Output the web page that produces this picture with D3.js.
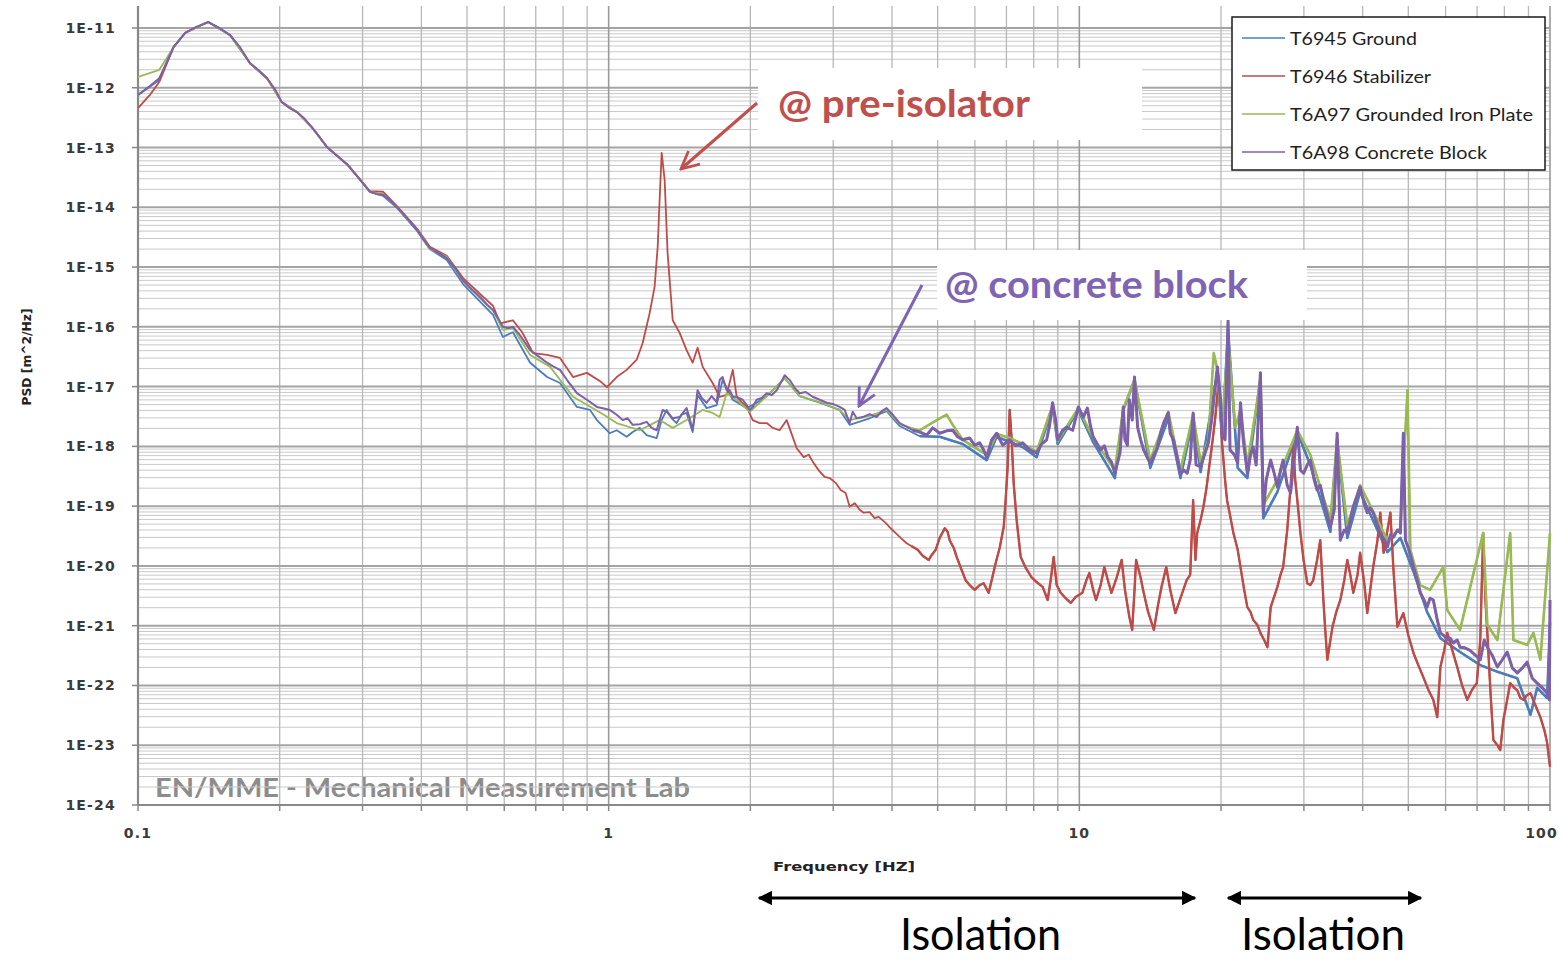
<!DOCTYPE html>
<html><head><meta charset="utf-8">
<script src="https://cdn.jsdelivr.net/npm/d3@7"></script>
<style>html,body{margin:0;padding:0;background:#fff}svg{display:block}</style>
</head><body>
<svg id="chart" width="1564" height="960"></svg>
<script>
// ---- DATA: [frequency (Hz), log10 PSD (m^2/Hz)] ----
const seriesNames = ["T6945 Ground","T6946 Stabilizer","T6A97 Grounded Iron Plate","T6A98 Concrete Block"];
const seriesColors = ["#4a7ebb","#be4b48","#98b954","#7d60a8"];
const xTickValues = [0.1, 1, 10, 100];
const xTickLabels = ["0.1","1","10","100"];
const yTickExponents = [-11,-12,-13,-14,-15,-16,-17,-18,-19,-20,-21,-22,-23,-24];
const yTickLabels = ["1E-11","1E-12","1E-13","1E-14","1E-15","1E-16","1E-17","1E-18","1E-19","1E-20","1E-21","1E-22","1E-23","1E-24"];

const ground = [[0.100,-12.12],[0.111,-11.87],[0.119,-11.32],[0.126,-11.08],[0.141,-10.90],[0.157,-11.12],[0.173,-11.59],[0.188,-11.84],[0.202,-12.24],[0.218,-12.41],[0.234,-12.66],[0.252,-12.99],[0.279,-13.29],[0.311,-13.74],[0.332,-13.81],[0.355,-14.01],[0.392,-14.40],[0.417,-14.70],[0.453,-14.88],[0.490,-15.28],[0.533,-15.58],[0.568,-15.80],[0.596,-16.17],[0.626,-16.09],[0.681,-16.60],[0.740,-16.84],[0.788,-16.94],[0.856,-17.34],[0.913,-17.39],[0.944,-17.56],[1.005,-17.78],[1.040,-17.73],[1.092,-17.84],[1.125,-17.76],[1.164,-17.69],[1.204,-17.81],[1.265,-17.86],[1.296,-17.56],[1.328,-17.39],[1.361,-17.53],[1.394,-17.61],[1.429,-17.47],[1.464,-17.44],[1.508,-17.76],[1.545,-17.14],[1.615,-17.36],[1.696,-17.31],[1.746,-16.89],[1.835,-17.22],[1.965,-17.36],[2.063,-17.27],[2.167,-17.16],[2.366,-16.86],[2.546,-17.16],[2.808,-17.27],[3.096,-17.39],[3.251,-17.64],[3.585,-17.53],[3.896,-17.41],[4.152,-17.66],[4.582,-17.83],[5.050,-17.84],[5.651,-17.96],[6.354,-18.23],[6.674,-17.84],[7.578,-18.01],[8.115,-18.18],[8.776,-17.34],[8.994,-17.96],[9.95,-17.39],[10.7,-17.93],[11.9,-18.53],[12.4,-17.39],[13.1,-16.89],[14.15,-18.36],[15.45,-17.53],[16.4,-18.53],[17.45,-17.53],[18.1,-18.43],[19.65,-16.76],[20.1,-17.86],[20.7,-16.05],[21.7,-18.36],[22.75,-18.53],[24.25,-16.86],[24.6,-19.20],[26.35,-18.76],[29.05,-17.76],[30.95,-18.31],[34.15,-19.43],[35.3,-17.89],[37.1,-19.53],[39.5,-18.76],[45.15,-19.77],[48.1,-19.53],[51.3,-20.10],[54.8,-20.77],[58.5,-21.21],[64.4,-21.44],[71.1,-21.66],[77.3,-21.77],[85.2,-21.88],[90.9,-22.49],[93.9,-22.04],[98.6,-22.21],[100,-20.94]];

const stabilizer = [[0.100,-12.34],[0.106,-12.12],[0.111,-11.90],[0.119,-11.32],[0.126,-11.08],[0.141,-10.90],[0.157,-11.12],[0.173,-11.59],[0.188,-11.84],[0.202,-12.24],[0.218,-12.41],[0.234,-12.66],[0.252,-12.99],[0.279,-13.29],[0.311,-13.73],[0.332,-13.74],[0.355,-13.98],[0.392,-14.36],[0.417,-14.66],[0.453,-14.81],[0.490,-15.18],[0.533,-15.45],[0.568,-15.65],[0.588,-15.94],[0.626,-15.89],[0.655,-16.09],[0.691,-16.44],[0.740,-16.47],[0.788,-16.52],[0.840,-16.84],[0.899,-16.77],[0.963,-16.92],[0.992,-17.01],[1.040,-16.84],[1.092,-16.72],[1.147,-16.55],[1.181,-16.27],[1.222,-15.77],[1.252,-15.33],[1.271,-14.66],[1.283,-13.88],[1.296,-13.09],[1.315,-13.54],[1.334,-14.76],[1.368,-15.89],[1.415,-16.10],[1.464,-16.39],[1.508,-16.60],[1.545,-16.35],[1.584,-16.67],[1.663,-16.94],[1.721,-17.17],[1.781,-17.14],[1.835,-16.72],[1.871,-17.17],[1.918,-17.26],[1.965,-17.34],[2.023,-17.56],[2.094,-17.61],[2.167,-17.61],[2.232,-17.69],[2.308,-17.73],[2.389,-17.56],[2.460,-17.84],[2.509,-18.03],[2.596,-18.18],[2.661,-18.14],[2.726,-18.28],[2.794,-18.40],[2.876,-18.51],[2.947,-18.53],[3.036,-18.61],[3.111,-18.73],[3.188,-18.78],[3.251,-19.01],[3.332,-18.95],[3.415,-19.06],[3.481,-19.11],[3.585,-19.10],[3.673,-19.20],[3.747,-19.18],[3.877,-19.28],[3.974,-19.37],[4.073,-19.45],[4.173,-19.53],[4.296,-19.62],[4.404,-19.67],[4.535,-19.73],[4.646,-19.83],[4.786,-19.90],[4.854,-19.82],[4.952,-19.73],[5.050,-19.53],[5.177,-19.37],[5.251,-19.43],[5.303,-19.57],[5.410,-19.70],[5.488,-19.85],[5.624,-20.07],[5.734,-20.24],[5.848,-20.32],[5.993,-20.40],[6.141,-20.32],[6.262,-20.29],[6.418,-20.45],[6.513,-20.24],[6.641,-19.95],[6.772,-19.70],[6.907,-19.35],[6.973,-18.90],[7.042,-18.34],[7.112,-17.39],[7.182,-17.89],[7.252,-18.61],[7.358,-19.23],[7.506,-19.85],[7.690,-20.03],[7.917,-20.19],[8.115,-20.27],[8.357,-20.35],[8.564,-20.57],[8.691,-20.24],[8.820,-19.85],[8.950,-20.32],[9.13,-20.45],[9.35,-20.54],[9.59,-20.62],[9.82,-20.52],[10.15,-20.45],[10.35,-20.24],[10.5,-20.12],[10.7,-20.40],[10.85,-20.57],[11.1,-20.32],[11.3,-20.02],[11.5,-20.24],[11.7,-20.45],[12.0,-20.20],[12.3,-19.90],[12.5,-20.40],[12.77,-20.85],[12.95,-21.07],[13.1,-20.40],[13.2,-19.90],[13.5,-20.20],[13.7,-20.45],[14.0,-20.77],[14.4,-21.07],[14.7,-20.65],[14.95,-20.35],[15.3,-20.02],[15.6,-20.40],[16.0,-20.79],[16.4,-20.54],[16.9,-20.24],[17.2,-20.15],[17.45,-18.90],[17.65,-19.90],[17.8,-19.45],[18.1,-19.23],[18.35,-19.01],[18.6,-18.73],[18.8,-18.45],[19.2,-17.89],[19.45,-17.51],[19.75,-16.94],[19.95,-17.39],[20.1,-17.94],[20.4,-18.56],[20.6,-18.90],[20.9,-19.15],[21.25,-19.45],[21.7,-19.73],[22.0,-20.02],[22.4,-20.40],[22.75,-20.69],[23.1,-20.77],[23.4,-20.90],[23.9,-20.99],[24.25,-21.12],[24.7,-21.24],[25.1,-21.36],[25.5,-20.69],[26.0,-20.49],[26.35,-20.35],[26.75,-20.15],[27.1,-20.02],[27.65,-19.40],[28.1,-18.68],[28.5,-18.01],[28.75,-18.56],[29.05,-18.90],[29.5,-19.45],[29.95,-19.90],[30.5,-20.29],[30.95,-20.32],[31.4,-20.24],[32.0,-19.90],[32.5,-19.57],[33.0,-20.57],[33.3,-21.07],[33.65,-21.57],[34.15,-21.24],[34.5,-21.02],[35.15,-20.77],[35.85,-20.57],[36.55,-20.24],[37.1,-19.90],[37.65,-20.15],[38.2,-20.45],[39.0,-20.15],[39.5,-19.78],[40.35,-20.32],[40.9,-20.79],[41.5,-20.40],[42.1,-20.02],[43.0,-19.57],[43.6,-19.11],[44.3,-19.78],[45.15,-19.40],[45.8,-19.11],[46.5,-20.07],[47.4,-21.02],[48.1,-20.90],[48.8,-20.79],[50.0,-21.16],[51.3,-21.46],[52.5,-21.66],[53.8,-21.86],[55.2,-22.08],[56.5,-22.24],[57.6,-22.53],[58.5,-21.69],[59.6,-21.41],[60.5,-21.12],[62.0,-21.41],[63.5,-21.69],[65.0,-21.99],[66.7,-22.24],[68.2,-22.08],[69.9,-21.96],[71.1,-21.24],[72.1,-19.45],[72.9,-20.57],[73.6,-21.12],[74.7,-22.08],[75.8,-22.91],[77.3,-23.00],[78.4,-23.08],[79.6,-22.58],[81.1,-22.24],[82.3,-21.96],[84.0,-22.04],[85.2,-22.08],[86.5,-22.21],[87.8,-22.24],[89.4,-22.16],[90.9,-22.13],[93.1,-22.33],[95.4,-22.53],[97.3,-22.75],[98.6,-22.96],[100,-23.36]];

const ironPlate = [[0.100,-11.82],[0.111,-11.70],[0.119,-11.32],[0.126,-11.08],[0.141,-10.90],[0.157,-11.12],[0.173,-11.59],[0.188,-11.84],[0.202,-12.24],[0.218,-12.41],[0.234,-12.66],[0.252,-12.99],[0.279,-13.29],[0.311,-13.74],[0.332,-13.78],[0.355,-14.00],[0.392,-14.38],[0.417,-14.70],[0.453,-14.83],[0.490,-15.23],[0.533,-15.52],[0.568,-15.73],[0.596,-16.05],[0.626,-16.02],[0.681,-16.47],[0.751,-16.67],[0.840,-17.17],[0.963,-17.44],[1.040,-17.61],[1.164,-17.73],[1.283,-17.56],[1.368,-17.69],[1.464,-17.56],[1.584,-17.39],[1.663,-17.44],[1.721,-17.51],[1.781,-17.11],[1.871,-17.22],[1.994,-17.42],[2.167,-17.16],[2.366,-16.86],[2.546,-17.16],[2.808,-17.26],[3.096,-17.39],[3.251,-17.56],[3.585,-17.49],[3.896,-17.39],[4.152,-17.63],[4.582,-17.73],[5.050,-17.53],[5.226,-17.47],[5.383,-17.64],[5.651,-17.89],[6.354,-18.14],[6.674,-17.79],[7.112,-17.86],[7.578,-17.96],[8.115,-18.09],[8.776,-17.31],[8.994,-17.91],[9.95,-17.36],[10.7,-17.86],[11.9,-18.40],[12.4,-17.37],[13.1,-16.89],[14.15,-18.23],[15.45,-17.42],[16.4,-18.40],[17.45,-17.47],[18.1,-18.26],[18.8,-17.89],[19.3,-16.44],[19.65,-16.72],[20.1,-17.73],[20.7,-16.22],[21.45,-17.68],[22.0,-17.39],[22.75,-18.31],[24.25,-16.89],[24.6,-18.98],[26.35,-18.56],[29.05,-17.73],[30.95,-18.14],[34.15,-19.23],[35.3,-17.89],[37.1,-19.32],[39.5,-18.65],[45.15,-19.57],[48.1,-19.37],[49.8,-17.06],[50.5,-19.73],[53.0,-20.32],[55.6,-20.40],[59.3,-20.02],[60.5,-20.74],[64.4,-21.07],[72.1,-19.45],[73.6,-20.99],[77.3,-21.24],[82.3,-19.45],[83.6,-21.24],[89.4,-21.32],[92.2,-21.12],[95.4,-21.57],[100,-19.45]];

const concreteBlock = [[0.100,-12.12],[0.106,-11.97],[0.111,-11.84],[0.119,-11.32],[0.126,-11.08],[0.133,-10.98],[0.141,-10.90],[0.149,-11.00],[0.157,-11.12],[0.165,-11.33],[0.173,-11.59],[0.180,-11.70],[0.188,-11.84],[0.196,-12.04],[0.202,-12.24],[0.210,-12.34],[0.218,-12.41],[0.226,-12.52],[0.234,-12.66],[0.244,-12.84],[0.252,-12.99],[0.265,-13.14],[0.279,-13.29],[0.293,-13.49],[0.311,-13.74],[0.322,-13.78],[0.332,-13.79],[0.343,-13.88],[0.355,-14.00],[0.373,-14.18],[0.392,-14.38],[0.405,-14.55],[0.417,-14.68],[0.438,-14.78],[0.453,-14.85],[0.472,-15.02],[0.490,-15.22],[0.513,-15.38],[0.533,-15.50],[0.552,-15.63],[0.568,-15.72],[0.582,-15.85],[0.596,-16.00],[0.611,-16.02],[0.626,-16.00],[0.648,-16.14],[0.681,-16.39],[0.708,-16.49],[0.740,-16.60],[0.762,-16.66],[0.788,-16.72],[0.816,-16.89],[0.856,-17.11],[0.899,-17.22],[0.944,-17.34],[0.982,-17.37],[1.005,-17.39],[1.040,-17.47],[1.071,-17.56],[1.097,-17.53],[1.125,-17.64],[1.164,-17.63],[1.204,-17.59],[1.234,-17.69],[1.265,-17.73],[1.302,-17.39],[1.328,-17.42],[1.368,-17.53],[1.415,-17.51],[1.464,-17.36],[1.486,-17.53],[1.508,-17.73],[1.545,-17.06],[1.576,-17.19],[1.615,-17.27],[1.655,-17.16],[1.696,-17.26],[1.721,-16.89],[1.746,-16.84],[1.781,-17.06],[1.808,-17.06],[1.835,-17.17],[1.871,-17.17],[1.927,-17.22],[1.965,-17.31],[1.994,-17.39],[2.023,-17.34],[2.063,-17.22],[2.115,-17.19],[2.167,-17.11],[2.221,-17.14],[2.275,-17.06],[2.320,-16.94],[2.366,-16.81],[2.401,-16.86],[2.425,-16.89],[2.484,-17.02],[2.546,-17.11],[2.622,-17.09],[2.713,-17.17],[2.808,-17.22],[2.905,-17.27],[2.994,-17.29],[3.096,-17.34],[3.172,-17.39],[3.251,-17.61],[3.300,-17.42],[3.364,-17.53],[3.465,-17.51],[3.585,-17.46],[3.710,-17.51],[3.802,-17.41],[3.896,-17.36],[4.012,-17.47],[4.152,-17.61],[4.274,-17.66],[4.426,-17.73],[4.582,-17.76],[4.741,-17.81],[4.880,-17.69],[5.050,-17.78],[5.226,-17.74],[5.383,-17.73],[5.515,-17.84],[5.651,-17.89],[5.848,-17.86],[5.993,-17.98],[6.141,-17.94],[6.262,-18.06],[6.354,-18.18],[6.513,-17.89],[6.674,-17.78],[6.873,-17.98],[7.112,-17.89],[7.321,-17.99],[7.578,-17.94],[7.840,-18.06],[8.115,-18.11],[8.316,-17.96],[8.522,-17.89],[8.648,-17.64],[8.776,-17.27],[8.906,-17.56],[8.994,-17.89],[9.216,-17.73],[9.397,-17.68],[9.68,-17.73],[9.82,-17.53],[9.95,-17.34],[10.2,-17.51],[10.4,-17.36],[10.55,-17.64],[10.7,-17.84],[11.1,-18.06],[11.3,-17.99],[11.5,-18.18],[11.7,-18.26],[11.9,-18.45],[12.2,-18.11],[12.4,-17.34],[12.5,-17.89],[12.65,-17.98],[12.77,-17.22],[12.95,-17.56],[13.1,-16.84],[13.3,-17.68],[13.5,-17.89],[13.7,-18.06],[13.95,-18.19],[14.15,-18.28],[14.4,-18.14],[14.6,-18.06],[14.9,-17.76],[15.1,-17.61],[15.45,-17.44],[15.6,-17.78],[15.85,-17.89],[16.1,-18.14],[16.4,-18.45],[16.7,-18.40],[16.95,-18.45],[17.2,-18.23],[17.45,-17.44],[17.7,-18.31],[18.1,-18.34],[18.45,-18.14],[18.8,-17.94],[19.1,-17.56],[19.3,-17.22],[19.65,-16.67],[19.95,-17.22],[20.1,-17.78],[20.4,-17.89],[20.7,-15.89],[20.9,-18.06],[21.35,-18.14],[21.7,-18.28],[22.0,-17.27],[22.3,-17.89],[22.75,-18.45],[23.1,-18.14],[23.4,-18.01],[23.75,-18.31],[24.25,-16.77],[24.6,-19.11],[24.95,-18.56],[25.5,-18.23],[26.0,-18.48],[26.35,-18.68],[26.75,-18.40],[27.1,-18.23],[27.65,-18.65],[28.1,-18.78],[28.6,-18.23],[29.05,-17.68],[29.5,-18.40],[29.95,-18.45],[30.5,-18.31],[30.95,-18.23],[31.55,-18.56],[32.0,-18.73],[32.5,-18.65],[33.0,-18.90],[33.65,-19.15],[34.15,-19.35],[34.8,-19.06],[35.3,-17.78],[35.85,-19.57],[36.55,-19.40],[37.1,-19.45],[37.65,-19.23],[38.2,-19.01],[39.0,-18.81],[39.5,-18.68],[40.35,-18.98],[40.9,-19.11],[41.5,-19.03],[42.1,-19.11],[43.0,-19.32],[43.6,-19.45],[44.5,-19.57],[45.15,-19.68],[45.8,-19.48],[46.5,-19.52],[47.4,-19.40],[48.1,-19.45],[48.8,-17.78],[49.3,-19.57],[50.0,-19.70],[50.5,-19.82],[51.3,-20.02],[52.25,-20.24],[53.0,-20.45],[54.0,-20.57],[54.8,-20.69],[55.6,-20.54],[56.5,-20.57],[57.6,-20.90],[58.5,-21.12],[59.6,-21.17],[60.5,-21.24],[61.4,-21.21],[62.3,-21.29],[63.5,-21.24],[64.4,-21.36],[65.9,-21.37],[67.5,-21.41],[69.3,-21.49],[71.1,-21.57],[72.5,-21.24],[73.6,-21.36],[75.3,-21.49],[77.3,-21.69],[79.2,-21.57],[81.1,-21.44],[83.2,-21.71],[85.2,-21.79],[87.3,-21.71],[89.4,-21.61],[91.7,-21.88],[93.9,-21.96],[96.3,-22.04],[98.6,-22.13],[99.7,-22.24],[100,-20.57]];

const seriesData = [ground, stabilizer, ironPlate, concreteBlock];

// ---- CHART ----
const svg = d3.select("#chart");
const W = 1564, H = 960;
const plot = {left:138, right:1550, top:6, bottom:805};
const x = d3.scaleLog().domain([0.1, 100]).range([plot.left, plot.right]);
const y = d3.scaleLog().domain([1e-24, 1e-11]).range([805, 28]);

svg.append("rect").attr("width", W).attr("height", H).attr("fill", "#fff");

svg.append("defs").append("clipPath").attr("id","plotclip")
  .append("rect").attr("x", plot.left).attr("y", plot.top)
  .attr("width", plot.right - plot.left + 2).attr("height", plot.bottom - plot.top);

// watermark (under grid)
svg.append("text").attr("x", 155).attr("y", 797)
  .attr("font-family", "Lato, 'Open Sans', sans-serif").attr("font-weight", "bold")
  .attr("font-size", 26).attr("fill", "#8c8c8c")
  .attr("textLength", 535).attr("lengthAdjust", "spacingAndGlyphs")
  .text("EN/MME - Mechanical Measurement Lab");

// grid values
const xGrid = [];
[0.1, 1, 10].forEach(dec => { for (let k = 1; k <= 9; k++) xGrid.push({v: k*dec, major: k === 1}); });
xGrid.push({v: 100, major: true});
const yGrid = [];
for (let e = -24; e <= -12; e++) { for (let k = 1; k <= 9; k++) yGrid.push({v: k*Math.pow(10, e), major: k === 1}); }
yGrid.push({v: 1e-11, major: true});

const grid = svg.append("g");
grid.selectAll("line.hy").data(yGrid.filter(d => !d.major)).join("line")
  .attr("x1", plot.left).attr("x2", plot.right)
  .attr("y1", d => y(d.v)).attr("y2", d => y(d.v))
  .attr("stroke", "#c9c9c9").attr("stroke-width", 1);
grid.selectAll("line.vx").data(xGrid.filter(d => !d.major)).join("line")
  .attr("x1", d => x(d.v)).attr("x2", d => x(d.v))
  .attr("y1", plot.top).attr("y2", plot.bottom)
  .attr("stroke", "#b8b8b8").attr("stroke-width", 1.3);
grid.selectAll("line.hY").data(yGrid.filter(d => d.major)).join("line")
  .attr("x1", plot.left).attr("x2", plot.right)
  .attr("y1", d => y(d.v)).attr("y2", d => y(d.v))
  .attr("stroke", "#a4a4a4").attr("stroke-width", 2);
grid.selectAll("line.vX").data(xGrid.filter(d => d.major)).join("line")
  .attr("x1", d => x(d.v)).attr("x2", d => x(d.v))
  .attr("y1", plot.top).attr("y2", plot.bottom)
  .attr("stroke", "#9a9a9a").attr("stroke-width", 1.6);

// axes
const axes = svg.append("g");
axes.append("line").attr("x1", plot.left).attr("x2", plot.left).attr("y1", plot.top).attr("y2", plot.bottom + 1)
  .attr("stroke", "#888").attr("stroke-width", 2.2);
axes.append("line").attr("x1", plot.left).attr("x2", plot.right).attr("y1", plot.bottom).attr("y2", plot.bottom)
  .attr("stroke", "#888").attr("stroke-width", 2.2);
axes.selectAll("line.ty").data(yTickExponents).join("line")
  .attr("x1", plot.left - 6).attr("x2", plot.left)
  .attr("y1", d => y(Math.pow(10, d))).attr("y2", d => y(Math.pow(10, d)))
  .attr("stroke", "#888").attr("stroke-width", 1.5);
axes.selectAll("line.tx").data(xGrid).join("line")
  .attr("x1", d => x(d.v)).attr("x2", d => x(d.v))
  .attr("y1", plot.bottom).attr("y2", plot.bottom + 6)
  .attr("stroke", "#888").attr("stroke-width", 1.5);

axes.selectAll("text.yl").data(yTickExponents).join("text")
  .attr("x", 116).attr("y", d => y(Math.pow(10, d)) + 5)
  .attr("text-anchor", "end")
  .attr("font-family", "'DejaVu Sans', Verdana, sans-serif").attr("font-weight", "bold")
  .attr("font-size", 14).attr("letter-spacing", 1.2).attr("fill", "#3a3a3a")
  .text((d, i) => yTickLabels[i]);
axes.selectAll("text.xl").data(xTickValues).join("text")
  .attr("x", (d, i) => i === xTickValues.length - 1 ? 1558 : x(d)).attr("y", 838)
  .attr("text-anchor", (d, i) => i === xTickValues.length - 1 ? "end" : "middle")
  .attr("font-family", "'DejaVu Sans', Verdana, sans-serif").attr("font-weight", "bold")
  .attr("font-size", 14).attr("letter-spacing", 1.2).attr("fill", "#3a3a3a")
  .text((d, i) => xTickLabels[i]);

svg.append("text").attr("x", 773).attr("y", 871)
  .attr("font-family", "'DejaVu Sans', Verdana, sans-serif").attr("font-weight", "bold")
  .attr("font-size", 13).attr("fill", "#222")
  .attr("textLength", 142).attr("lengthAdjust", "spacingAndGlyphs")
  .text("Frequency [HZ]");
svg.append("text").attr("transform", "translate(31,357) rotate(-90)")
  .attr("text-anchor", "middle")
  .attr("font-family", "'DejaVu Sans', Verdana, sans-serif").attr("font-weight", "bold")
  .attr("font-size", 13).attr("fill", "#222")
  .attr("textLength", 97).attr("lengthAdjust", "spacingAndGlyphs")
  .text("PSD [m^2/Hz]");

// series: thin line over the whole range, plus a heavier stroke where the
// measured spectrum is a dense noise band (above ~4 Hz)
const line = d3.line().x(d => x(d[0])).y(d => y(Math.pow(10, d[1])));
const lines = svg.append("g").attr("clip-path", "url(#plotclip)");
const bandWidth = [2.6, 2.4, 2.6, 3.0];
[0, 1, 2, 3].forEach(i => {
  lines.append("path").datum(seriesData[i])
    .attr("d", line).attr("fill", "none")
    .attr("stroke", seriesColors[i]).attr("stroke-width", i === 3 ? 2 : 1.8)
    .attr("stroke-linejoin", "round");
  lines.append("path").datum(seriesData[i].filter(d => d[0] >= 4.4))
    .attr("d", line).attr("fill", "none")
    .attr("stroke", seriesColors[i]).attr("stroke-width", bandWidth[i])
    .attr("stroke-linejoin", "round");
});

// annotations
const defs = svg.select("defs");
function marker(id, color) {
  defs.append("marker").attr("id", id).attr("viewBox", "0 0 12 12")
    .attr("refX", 11).attr("refY", 6).attr("markerWidth", 7).attr("markerHeight", 7)
    .attr("markerUnits", "strokeWidth").attr("orient", "auto")
    .append("path").attr("d", "M1,1 L11,6 L1,11").attr("fill", "none")
    .attr("stroke", color).attr("stroke-width", 1.6);
}
marker("arRed", "#c0504d");
marker("arPur", "#7f64b4");

svg.append("rect").attr("x", 758).attr("y", 68).attr("width", 384).attr("height", 72).attr("fill", "#fff");
svg.append("text").attr("x", 778).attr("y", 117)
  .attr("font-family", "Lato, 'Open Sans', sans-serif").attr("font-weight", "bold")
  .attr("font-size", 38).attr("fill", "#c0504d")
  .attr("textLength", 252).attr("lengthAdjust", "spacingAndGlyphs")
  .text("@ pre-isolator");
svg.append("line").attr("x1", 757).attr("y1", 103).attr("x2", 681).attr("y2", 169)
  .attr("stroke", "#c0504d").attr("stroke-width", 3).attr("marker-end", "url(#arRed)");

svg.append("rect").attr("x", 937).attr("y", 250).attr("width", 370).attr("height", 70).attr("fill", "#fff");
svg.append("text").attr("x", 945).attr("y", 298)
  .attr("font-family", "Lato, 'Open Sans', sans-serif").attr("font-weight", "bold")
  .attr("font-size", 38).attr("fill", "#7f64b4")
  .attr("textLength", 303).attr("lengthAdjust", "spacingAndGlyphs")
  .text("@ concrete block");
svg.append("line").attr("x1", 922).attr("y1", 285).attr("x2", 859).attr("y2", 406)
  .attr("stroke", "#7f64b4").attr("stroke-width", 3).attr("marker-end", "url(#arPur)");

// legend
const lg = svg.append("g");
lg.append("rect").attr("x", 1232).attr("y", 17).attr("width", 313).attr("height", 153)
  .attr("fill", "#fff").attr("stroke", "#1a1a1a").attr("stroke-width", 1.5);
const legendWidths = [127, 141, 243, 197];
seriesNames.forEach((name, i) => {
  const ly = 38 + i * 38;
  lg.append("line").attr("x1", 1242).attr("x2", 1285).attr("y1", ly).attr("y2", ly)
    .attr("stroke", seriesColors[i]).attr("stroke-width", 1.6);
  lg.append("text").attr("x", 1290).attr("y", ly + 6.5)
    .attr("font-family", "Lato, 'Open Sans', sans-serif").attr("font-size", 18).attr("fill", "#1f1f1f")
    .attr("textLength", legendWidths[i]).attr("lengthAdjust", "spacingAndGlyphs")
    .text(name);
});

// isolation arrows
defs.append("marker").attr("id", "arBlk").attr("viewBox", "0 0 10 10")
  .attr("refX", 9).attr("refY", 5).attr("markerWidth", 5.5).attr("markerHeight", 4.5)
  .attr("markerUnits", "strokeWidth").attr("orient", "auto-start-reverse")
  .append("path").attr("d", "M0,0 L10,5 L0,10 Z").attr("fill", "#000");
[[758, 1196], [1227, 1422]].forEach(r => {
  svg.append("line").attr("x1", r[0] + 1).attr("x2", r[1] - 1).attr("y1", 898).attr("y2", 898)
    .attr("stroke", "#000").attr("stroke-width", 3.2)
    .attr("marker-start", "url(#arBlk)").attr("marker-end", "url(#arBlk)");
});
[[900, 161], [1241, 164]].forEach(p => {
  svg.append("text").attr("x", p[0]).attr("y", 950)
    .attr("font-family", "Lato, 'Open Sans', sans-serif").attr("font-size", 44).attr("fill", "#000")
    .attr("textLength", p[1]).attr("lengthAdjust", "spacingAndGlyphs")
    .text("Isolation");
});
</script>
</body></html>
